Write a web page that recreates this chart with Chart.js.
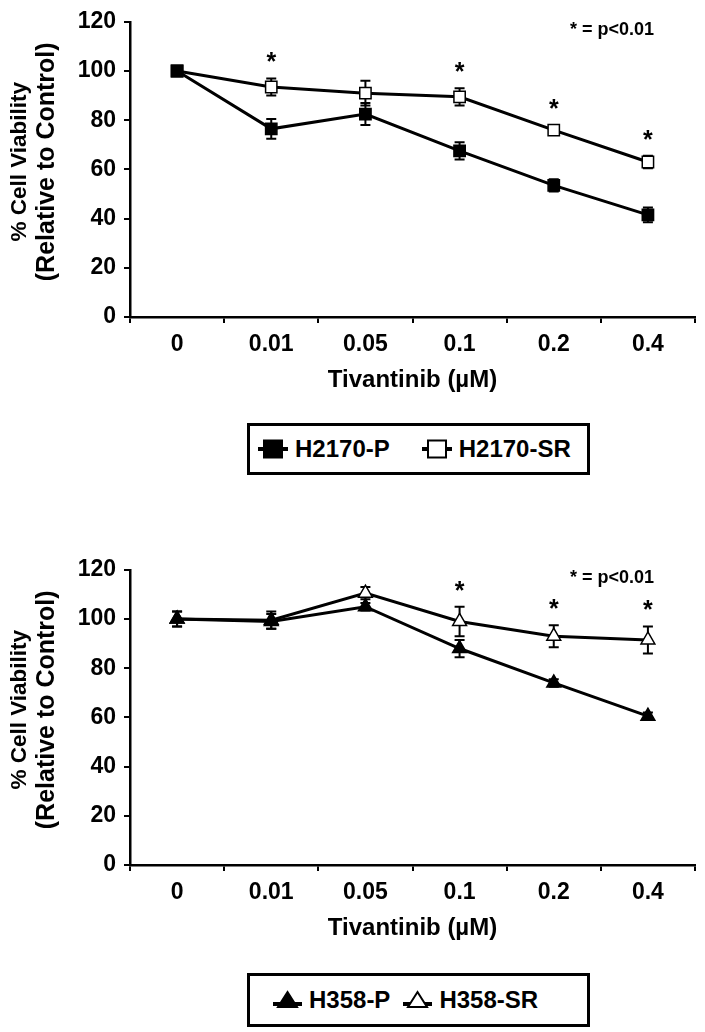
<!DOCTYPE html>
<html>
<head>
<meta charset="utf-8">
<script src="https://cdn.jsdelivr.net/npm/chart.js@4.4.1/dist/chart.umd.min.js"></script>
<style>
    body { margin: 0; background: #fff; width: 705px; height: 1032px; position: relative; overflow: hidden;
        font-family: 'Liberation Sans', Arial, sans-serif; }
    .panel { position: absolute; left: 0; width: 705px; height: 420px; }
    .legend { position: absolute; border: 3px solid #000; box-sizing: border-box; display: flex; align-items: center;
        font-weight: bold; font-size: 24px; white-space: nowrap; color: #000; }
    .legend .item { display: inline-flex; align-items: center; }
    .legend svg { margin-right: 7px; }
</style>
</head>
<body>
<div class="panel" style="top:0"><canvas id="topChart"></canvas></div>
<div class="legend" id="topLegend" style="left:247px; top:423px; width:343px; height:52px; padding-left:8px"></div>
<div class="panel" style="top:548px"><canvas id="bottomChart"></canvas></div>
<div class="legend" id="bottomLegend" style="left:247px; top:973px; width:343px; height:54px; padding-left:23px"></div>
<script>
'use strict';
// data
const doses = ['0', '0.01', '0.05', '0.1', '0.2', '0.4'];

const h2170P = [100, 76.5, 82.5, 67.5, 53.5, 41.5];
const h2170PErr = [2, 4, 4.5, 3.5, 2.5, 3];
const h2170SR = [100, 93.5, 91, 89.5, 76, 63];
const h2170SRErr = [2, 3.5, 5, 3.5, 2, 2.5];
const h2170Sig = [false, true, false, true, true, true];

const h358P = [100, 99, 105, 88, 74, 60.5];
const h358PErr = [3, 3, 1.5, 3.5, 1.5, 1.5];
const h358SR = [100, 99.5, 110.5, 99, 93, 91.5];
const h358SRErr = [3, 3.5, 2.5, 6, 4.5, 5.5];
const h358Sig = [false, false, false, true, true, true];

const FONT = "'Liberation Sans', Arial, sans-serif";
Chart.defaults.font.family = FONT;
Chart.defaults.color = '#000';

// error bars under the lines, significance stars over them
const errorBars = {
    id: 'errorBars',
    beforeDatasetsDraw(chart) {
        const {ctx, scales: {x, y}} = chart;
        ctx.save();
        ctx.strokeStyle = '#000';
        ctx.lineWidth = 2;
        chart.data.datasets.forEach(ds => {
            ds.data.forEach((v, i) => {
                const px = x.getPixelForValue(i);
                const top = y.getPixelForValue(v + ds.errors[i]);
                const bot = y.getPixelForValue(v - ds.errors[i]);
                ctx.beginPath();
                ctx.moveTo(px, top); ctx.lineTo(px, bot);
                ctx.moveTo(px - 5, top); ctx.lineTo(px + 5, top);
                ctx.moveTo(px - 5, bot); ctx.lineTo(px + 5, bot);
                ctx.stroke();
            });
        });
        ctx.restore();
    },
    afterDatasetsDraw(chart, args, opts) {
        const {ctx, scales: {x, y}, chartArea} = chart;
        const ds = chart.data.datasets[opts.over];
        ctx.save();
        ctx.fillStyle = '#000';
        ctx.textAlign = 'center';
        ctx.textBaseline = 'alphabetic';
        ctx.font = 'bold 25px ' + FONT;
        opts.sig.forEach((s, i) => {
            if (!s) return;
            const top = y.getPixelForValue(ds.data[i] + ds.errors[i]);
            ctx.fillText('*', x.getPixelForValue(i), top - 8);
        });
        ctx.font = 'bold 18px ' + FONT;
        ctx.textBaseline = 'middle';
        ctx.fillText(opts.note, 612, chartArea.top + 8);
        ctx.restore();
    },
    // two-line y title, second line is set larger in the figure
    afterDraw(chart) {
        const {ctx, chartArea} = chart;
        ctx.save();
        ctx.fillStyle = '#000';
        ctx.textAlign = 'center';
        ctx.textBaseline = 'middle';
        ctx.translate(0, chartArea.top + 140);
        ctx.rotate(-Math.PI / 2);
        ctx.font = 'bold 22.5px ' + FONT;
        ctx.fillText('% Cell Viability', 0, 20);
        ctx.font = 'bold 25px ' + FONT;
        ctx.fillText('(Relative to Control)', 0, 47);
        ctx.restore();
    },
};

function makeSeries(label, data, errors, style, fill) {
    return {
        label: label,
        data: data,
        errors: errors,
        borderColor: '#000',
        borderWidth: 3,
        tension: 0,
        pointStyle: style,
        pointRadius: 8,
        pointBackgroundColor: fill,
        pointBorderColor: '#000',
        pointBorderWidth: 1.5,
    };
}

function makeChart(id, datasets, sig) {
    return new Chart(document.getElementById(id), {
        type: 'line',
        data: {labels: doses, datasets: datasets},
        options: {
            responsive: true,
            maintainAspectRatio: false,
            animation: false,
            layout: {padding: {top: 17, right: 10, left: 0, bottom: 0}},
            plugins: {
                legend: {display: false},
                tooltip: {enabled: false},
                errorBars: {over: 1, sig: sig, note: '* = p<0.01'},
            },
            scales: {
                x: {
                    offset: true,
                    grid: {offset: true, drawOnChartArea: false, tickLength: 6, color: '#000', lineWidth: 2},
                    border: {color: '#000', width: 2.5},
                    ticks: {color: '#000', font: {size: 23, weight: 'bold'}, padding: 8},
                    title: {
                        display: true, text: 'Tivantinib (µM)', color: '#000',
                        font: {size: 24, weight: 'bold'}, padding: {top: 0, bottom: 25},
                    },
                    afterFit: (scale) => { scale.height = 103; },
                },
                y: {
                    min: 0,
                    max: 120,
                    ticks: {stepSize: 20, color: '#000', font: {size: 23, weight: 'bold'}, padding: 8},
                    grid: {drawOnChartArea: false, tickLength: 6, color: '#000', lineWidth: 2},
                    border: {color: '#000', width: 2.5},
                    afterFit: (scale) => { scale.width = 130; },
                },
            },
        },
        plugins: [errorBars],
    });
}

makeChart('topChart', [
    makeSeries('H2170-P', h2170P, h2170PErr, 'rect', '#000'),
    makeSeries('H2170-SR', h2170SR, h2170SRErr, 'rect', '#fff'),
], h2170Sig);

makeChart('bottomChart', [
    makeSeries('H358-P', h358P, h358PErr, 'triangle', '#000'),
    makeSeries('H358-SR', h358SR, h358SRErr, 'triangle', '#fff'),
], h358Sig);

// html legends
function icon(style, fill) {
    if (style === 'rect') {
        return '<svg width="30" height="20"><line x1="0" y1="10" x2="30" y2="10" stroke="#000" stroke-width="4"/>' +
            '<rect x="6" y="1.5" width="18" height="17" fill="' + fill + '" stroke="#000" stroke-width="2"/></svg>';
    }
    return '<svg width="29" height="20"><line x1="0" y1="14" x2="29" y2="14" stroke="#000" stroke-width="4"/>' +
        '<polygon points="14.5,2 24,17 5,17" fill="' + fill + '" stroke="#000" stroke-width="2"/></svg>';
}

function buildLegend(id, items, gap) {
    const el = document.getElementById(id);
    el.innerHTML = items.map((it, i) =>
        '<span class="item" style="margin-left:' + (i ? gap : 0) + 'px">' + icon(it[1], it[2]) + it[0] + '</span>'
    ).join('');
}

buildLegend('topLegend', [['H2170-P', 'rect', '#000'], ['H2170-SR', 'rect', '#fff']], 32);
buildLegend('bottomLegend', [['H358-P', 'triangle', '#000'], ['H358-SR', 'triangle', '#fff']], 13);
</script>
</body>
</html>
